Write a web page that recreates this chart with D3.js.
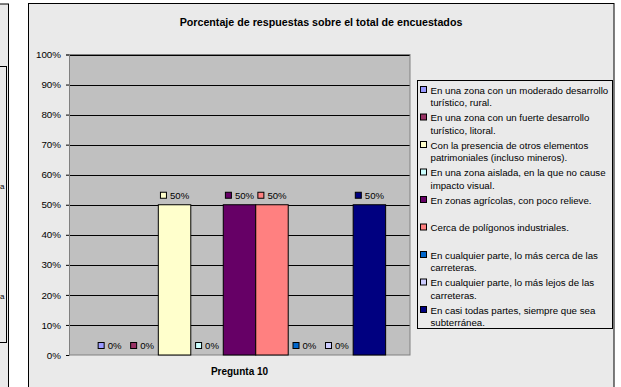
<!DOCTYPE html>
<html><head><meta charset="utf-8">
<script src="https://cdn.jsdelivr.net/npm/d3@7"></script>
<style>
html,body{margin:0;padding:0;background:#fff;}
svg{display:block;font-family:"Liberation Sans",Arial,sans-serif;}
</style></head>
<body>
<svg id="c" width="621" height="387"></svg>
<script>
const title = "Porcentaje de respuestas sobre el total de encuestados";
const categories = ["Pregunta 10"];
const seriesNames = [
  "En una zona con un moderado desarrollo turístico, rural.",
  "En una zona con un fuerte desarrollo turístico, litoral.",
  "Con la presencia de otros elementos patrimoniales (incluso mineros).",
  "En una zona aislada, en la que no cause impacto visual.",
  "En zonas agrícolas, con poco relieve.",
  "Cerca de polígonos industriales.",
  "En cualquier parte, lo más cerca de las carreteras.",
  "En cualquier parte, lo más lejos de las carreteras.",
  "En casi todas partes, siempre que sea subterránea."
];
const seriesValues = [0, 0, 50, 0, 50, 50, 0, 0, 50];
const seriesColors = ["#9999FF","#993366","#FFFFCC","#CCFFFF","#660066","#FF8080","#0066CC","#CCCCFF","#000080"];
const yTicks = [0,10,20,30,40,50,60,70,80,90,100];
const neighbourFragments = ["a","a"];

const svg = d3.select("#c");

// left neighbour chart fragment
svg.append("rect").attr("x",-10).attr("y",4).attr("width",18.5).attr("height",400)
  .attr("fill","#EAEAEA").attr("stroke","#000").attr("stroke-width",1);
svg.append("rect").attr("x",-10).attr("y",66.5).attr("width",16.5).attr("height",276)
  .attr("fill","#EAEAEA").attr("stroke","#000").attr("stroke-width",1);
neighbourFragments.forEach((t,i)=>{
  svg.append("text").attr("x",0).attr("y",[189,299][i]).attr("font-size",8).attr("fill","#000").text(t);
});

// main chart area
svg.append("rect").attr("x",28.5).attr("y",3.5).attr("width",585.5).attr("height",400)
  .attr("fill","#EAEAEA").attr("stroke","#000").attr("stroke-width",1);

svg.append("text").attr("x",321).attr("y",25.5).attr("text-anchor","middle")
  .attr("font-size",10.7).attr("font-weight","bold").text(title);

const plot = {l:69, r:410, t:54.5, b:355};
const y = d3.scaleLinear().domain([0,100]).range([plot.b, plot.t]);
const x0 = d3.scaleBand().domain(categories).range([plot.l, plot.r]);
const x1 = d3.scaleBand().domain(d3.range(seriesNames.length))
  .range([0, x0.bandwidth()]).paddingInner(0).paddingOuter(0.75);

svg.append("rect").attr("x",plot.l).attr("y",plot.t).attr("width",plot.r-plot.l).attr("height",plot.b-plot.t)
  .attr("fill","#C0C0C0");

// gridlines
svg.append("g").selectAll("line").data(yTicks.filter(d=>d>0)).join("line")
  .attr("x1",plot.l).attr("x2",plot.r)
  .attr("y1",d=>Math.round(y(d))+0.5).attr("y2",d=>Math.round(y(d))+0.5)
  .attr("stroke","#000").attr("stroke-width",1);

// plot border
svg.append("rect").attr("x",plot.l+0.5).attr("y",plot.t).attr("width",plot.r-plot.l-0.5).attr("height",plot.b-plot.t)
  .attr("fill","none").attr("stroke","#808080").attr("stroke-width",1);

// y axis
const yAxis = d3.axisLeft(y).tickValues(yTicks).tickFormat(d=>d+"%").tickSize(3).tickPadding(5);
const ya = svg.append("g").attr("transform",`translate(${plot.l},0)`).call(yAxis);
ya.select(".domain").attr("stroke","#808080");
ya.selectAll(".tick line").attr("stroke","#000");
ya.selectAll("text").attr("font-size",9.8).attr("fill","#000").attr("font-family","Liberation Sans, Arial, sans-serif");

// bars
const g = svg.append("g");
categories.forEach(cat=>{
  const cx = x0(cat);
  seriesValues.forEach((v,i)=>{
    const bx = cx + x1(i);
    if (v>0) {
      g.append("rect").attr("x",bx).attr("y",y(v)).attr("width",x1.bandwidth()).attr("height",y(0)-y(v))
        .attr("fill",seriesColors[i]).attr("stroke","#000").attr("stroke-width",1);
    }
    const lx = bx + x1.bandwidth()/2;
    const lab = g.append("g").attr("transform",`translate(${lx},${y(v)-9.5})`);
    const t = lab.append("text").attr("font-size",9.6).attr("dominant-baseline","central").text(v+"%");
    const tw = t.node().getComputedTextLength();
    const total = 6 + 4 + tw;
    lab.append("rect").attr("x",-total/2+0.5).attr("y",-3).attr("width",6).attr("height",6)
      .attr("fill",seriesColors[i]).attr("stroke","#000").attr("stroke-width",1);
    t.attr("x",-total/2+10);
  });
  svg.append("text").attr("x",cx+x0.bandwidth()/2).attr("y",375).attr("text-anchor","middle")
    .attr("font-size",10).attr("font-weight","bold").text(cat);
});

// legend
const leg = {x:417.5, y:80.5, w:195, h:248};
svg.append("rect").attr("x",leg.x).attr("y",leg.y).attr("width",leg.w).attr("height",leg.h)
  .attr("fill","#EAEAEA").attr("stroke","#000").attr("stroke-width",1);
const maxW = 190;
seriesNames.forEach((name,i)=>{
  const cy = 89.5 + i*27.5;
  const item = svg.append("g");
  item.append("rect").attr("x",420.5).attr("y",cy-3).attr("width",6).attr("height",6)
    .attr("fill",seriesColors[i]).attr("stroke","#000").attr("stroke-width",1);
  const t = item.append("text").attr("x",430.5).attr("font-size",9.7).attr("dominant-baseline","central");
  const words = name.split(" ");
  let line = [], ln = 0;
  let ts = t.append("tspan").attr("x",430.5).attr("y",cy);
  words.forEach(w=>{
    line.push(w);
    ts.text(line.join(" "));
    if (ts.node().getComputedTextLength() > maxW && line.length>1) {
      line.pop(); ts.text(line.join(" "));
      line=[w]; ln++;
      ts = t.append("tspan").attr("x",430.5).attr("y",cy+ln*12.5).text(w);
    }
  });
});
</script>
</body></html>
